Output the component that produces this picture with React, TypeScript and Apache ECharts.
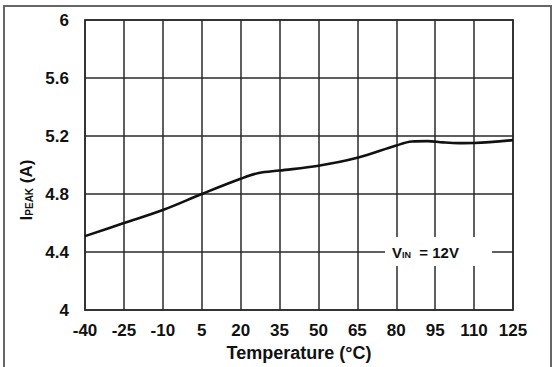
import React, { useEffect, useRef } from "react";
import * as echarts from "echarts";

const xTickLabels = ["-40", "-25", "-10", "5", "20", "35", "50", "65", "80", "95", "110", "125"];
const temps = [-40, -25, -10, 5, 20, 27, 35, 50, 65, 80, 86, 92, 98, 104, 110, 125];
const ipeak = [4.51, 4.6, 4.69, 4.8, 4.905, 4.945, 4.962, 4.995, 5.05, 5.135, 5.162, 5.165, 5.156, 5.151, 5.152, 5.172];

const FONT = 'Arial, "Liberation Sans", Helvetica, sans-serif';

export default function App() {
  const ref = useRef<HTMLDivElement>(null);
  useEffect(() => {
    if (!ref.current) return;
    const chart = echarts.init(ref.current, null, { renderer: "svg" });
    const data = temps.map((t, i) => [t, ipeak[i]]);
    chart.setOption({
      animation: false,
      backgroundColor: "#ffffff",
      textStyle: { fontFamily: FONT },
      grid: {
        left: 85,
        top: 20,
        right: 41,
        bottom: 55,
        show: true,
        borderColor: "#555",
        borderWidth: 2,
      },
      xAxis: [
        {
          type: "category",
          data: xTickLabels,
          boundaryGap: false,
          name: "Temperature (°C)",
          nameLocation: "middle",
          nameGap: 33,
          nameTextStyle: { fontSize: 18, fontWeight: "bold", color: "#111", fontFamily: FONT },
          axisLine: { show: false },
          axisTick: { show: false },
          axisLabel: { interval: 0, fontSize: 17, fontWeight: "bold", color: "#111", margin: 12, fontFamily: FONT },
          splitLine: { show: true, interval: 0, lineStyle: { color: "#2a2a2a", width: 1.5 } },
        },
        {
          type: "value",
          min: -40,
          max: 125,
          show: false,
          splitLine: { show: false },
        },
      ],
      yAxis: {
        type: "value",
        min: 4,
        max: 6,
        interval: 0.4,
        axisLine: { show: false },
        axisTick: { show: false },
        axisLabel: {
          fontSize: 17,
          fontWeight: "bold",
          color: "#111",
          margin: 16,
          fontFamily: FONT,
          formatter: (v: number) => String(+v.toFixed(1)),
        },
        splitLine: { show: true, lineStyle: { color: "#2a2a2a", width: 1.5 } },
      },
      series: [
        {
          type: "line",
          xAxisIndex: 1,
          data,
          smooth: 0.35,
          showSymbol: false,
          lineStyle: { color: "#111", width: 2.6 },
          z: 5,
        },
      ],
      graphic: [
        {
          type: "rect",
          z: 100,
          shape: { x: 4, y: 6, width: 547, height: 400 },
          style: { fill: "none", stroke: "#666", lineWidth: 2 },
        },
        {
          type: "rect",
          z: 100,
          shape: { x: 385, y: 237, width: 107, height: 29 },
          style: { fill: "#ffffff", stroke: "none" },
        },
        {
          type: "text",
          z: 101,
          x: 392,
          y: 252,
          style: {
            text: "{a|V}{b|IN}{a|  = 12V}",
            verticalAlign: "middle",
            align: "left",
            fill: "#111",
            rich: {
              a: { fontSize: 15, fontWeight: "bold", fontFamily: FONT, fill: "#111" },
              b: { fontSize: 9, fontWeight: "bold", fontFamily: FONT, fill: "#111", verticalAlign: "bottom", lineHeight: 4 },
            },
          },
        },
        {
          type: "text",
          z: 101,
          x: 26,
          y: 190,
          rotation: Math.PI / 2,
          style: {
            text: "{a|I}{b|PEAK}{a| (A)}",
            align: "center",
            verticalAlign: "middle",
            fill: "#111",
            rich: {
              a: { fontSize: 17, fontWeight: "bold", fontFamily: FONT, fill: "#111" },
              b: { fontSize: 10, fontWeight: "bold", fontFamily: FONT, fill: "#111", verticalAlign: "bottom", lineHeight: 10 },
            },
          },
        },
      ],
    });
    return () => chart.dispose();
  }, []);
  return (
    <div
      ref={ref}
      style={{ position: "absolute", left: 0, top: 0, width: 554, height: 367, background: "#fff" }}
    />
  );
}
